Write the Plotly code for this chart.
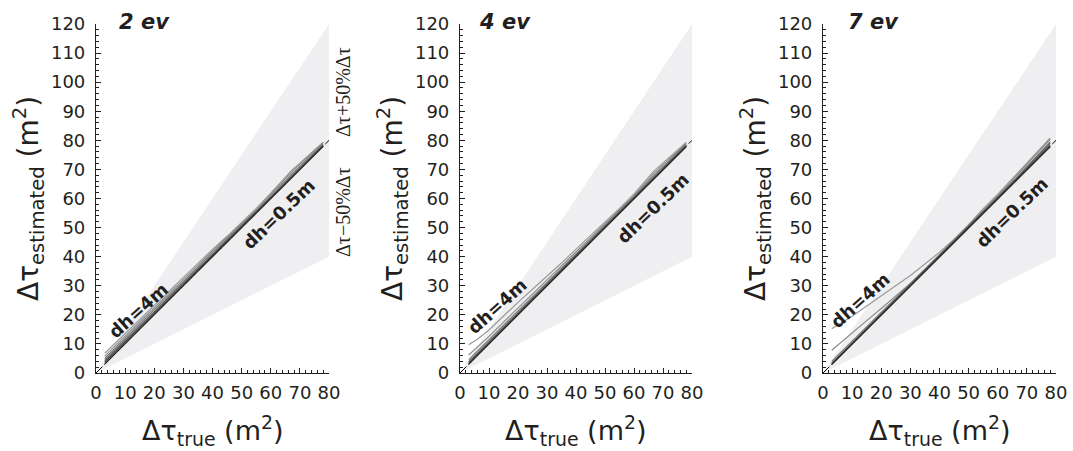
import plotly.graph_objects as go

# ---- data -------------------------------------------------------------
panel_names = ["2 ev", "4 ev", "7 ev"]
dh_values = [4, 3, 2, 1.5, 1, 0.5]
line_colors = ["#9a9a9a", "#8a8a8a", "#787878", "#5e5e5e", "#484848", "#2a2a2a"]

tau_true = [3, 6, 10, 15, 20, 25, 30, 35, 40, 45, 50, 55, 60, 67, 78]

est_2ev = [
    [6.8, 9.7, 13.5, 18.4, 23.2, 28.0, 32.8, 37.6, 42.5, 47.0, 51.8, 56.6, 61.8, 69.5, 79.4],
    [5.8, 8.8, 12.7, 17.6, 22.4, 27.2, 32.0, 36.9, 42.0, 46.5, 51.3, 56.0, 61.3, 69.0, 79.2],
    [5.0, 8.0, 12.0, 16.9, 21.8, 26.6, 31.4, 36.3, 41.4, 46.0, 50.8, 55.6, 60.8, 68.2, 78.8],
    [4.3, 7.3, 11.3, 16.2, 21.1, 26.0, 30.9, 35.8, 40.8, 45.6, 50.5, 55.3, 60.4, 67.6, 78.4],
    [3.7, 6.7, 10.7, 15.6, 20.6, 25.5, 30.5, 35.4, 40.4, 45.3, 50.2, 55.1, 60.2, 67.2, 78.1],
    [3.1, 6.1, 10.1, 15.1, 20.1, 25.0, 30.0, 35.0, 40.0, 45.0, 50.0, 55.0, 60.0, 67.0, 77.9],
]
est_4ev = [
    [9.7, 11.6, 14.8, 19.6, 24.3, 28.8, 33.2, 37.8, 42.6, 47.2, 52.0, 56.6, 61.6, 69.6, 79.3],
    [6.2, 8.9, 12.6, 17.5, 22.3, 27.1, 31.9, 36.7, 41.7, 46.4, 51.3, 56.0, 61.0, 68.8, 79.0],
    [4.6, 7.6, 11.5, 16.4, 21.3, 26.2, 31.1, 36.0, 41.0, 45.9, 50.8, 55.6, 60.6, 68.0, 78.6],
    [3.8, 6.8, 10.8, 15.8, 20.7, 25.6, 30.6, 35.5, 40.5, 45.4, 50.4, 55.3, 60.3, 67.5, 78.3],
    [3.3, 6.3, 10.3, 15.3, 20.3, 25.2, 30.2, 35.2, 40.2, 45.1, 50.1, 55.1, 60.1, 67.2, 78.0],
    [3.0, 6.0, 10.0, 15.0, 20.0, 25.0, 30.0, 35.0, 40.0, 45.0, 50.0, 55.0, 60.0, 67.0, 77.8],
]
est_7ev = [
    [15.2, 17.0, 19.5, 23.0, 26.5, 30.0, 33.5, 37.5, 41.5, 46.0, 51.0, 56.5, 61.5, 69.0, 80.8],
    [7.8, 10.4, 13.8, 18.0, 22.2, 26.4, 30.8, 35.5, 40.6, 45.5, 50.6, 56.0, 61.0, 68.5, 80.3],
    [4.0, 7.0, 11.0, 16.0, 21.0, 25.9, 30.8, 35.8, 40.7, 45.6, 50.5, 55.6, 60.5, 67.8, 79.5],
    [3.4, 6.4, 10.4, 15.4, 20.4, 25.4, 30.4, 35.3, 40.3, 45.3, 50.3, 55.4, 60.3, 67.4, 79.0],
    [3.1, 6.1, 10.1, 15.1, 20.1, 25.1, 30.1, 35.1, 40.1, 45.0, 50.0, 55.0, 60.0, 67.0, 78.3],
    [2.9, 5.9, 9.9, 14.9, 19.9, 24.9, 29.9, 34.9, 39.9, 44.9, 49.9, 54.8, 59.8, 66.8, 77.8],
]
panel_series = [est_2ev, est_4ev, est_7ev]

# ±50 % envelope and 1:1 reference
tau_max = 80
band_x = [0, tau_max, tau_max, 0]
band_y = [0, 1.5 * tau_max, 0.5 * tau_max, 0]

# dh label positions (data units) per panel
label_4m = [(14.4, 21.6), (12.6, 23.0), (12.6, 25.0)]
label_05m = [(62.5, 54.6), (66.3, 56.7), (64.7, 55.3)]
panel_label_px = [117, 477, 846]

# ---- layout geometry ----------------------------------------------------
W, H = 1073, 451
x_px = [(96, 329), (460, 692), (823, 1056)]
y_dom = [(H - 373) / H, (H - 24) / H]

SANS = "DejaVu Sans"
INK = "#231f20"

fig = go.Figure()

for i, series in enumerate(panel_series):
    xa = "x" if i == 0 else f"x{i+1}"
    ya = "y" if i == 0 else f"y{i+1}"
    fig.add_trace(go.Scatter(x=band_x, y=band_y, fill="toself", mode="lines",
                             line=dict(width=0), fillcolor="#efeff1",
                             hoverinfo="skip", showlegend=False, xaxis=xa, yaxis=ya))
    fig.add_trace(go.Scatter(x=[0, tau_max], y=[0, tau_max], mode="lines",
                             line=dict(color="#000000", width=1, dash="dashdot"),
                             showlegend=False, xaxis=xa, yaxis=ya))
    for ys, col, dh in zip(series, line_colors, dh_values):
        fig.add_trace(go.Scatter(x=tau_true, y=ys, mode="lines",
                                 line=dict(color=col, width=1.2),
                                 name=f"dh={dh}m", showlegend=False,
                                 xaxis=xa, yaxis=ya))

axis_common = dict(showgrid=False, zeroline=False, showline=True, linecolor=INK,
                   linewidth=1.2, ticks="inside", ticklen=5, tickwidth=1,
                   tickcolor=INK, tickfont=dict(family=SANS, size=18, color=INK),
                   minor=dict(dtick=2, ticks="inside", ticklen=3, tickcolor=INK, tickwidth=1),
                   automargin=False, fixedrange=True)

for i in range(3):
    sfx = "" if i == 0 else str(i + 1)
    fig.update_layout(**{
        f"xaxis{sfx}": dict(axis_common, domain=[x_px[i][0] / W, x_px[i][1] / W],
                            range=[0, 80], dtick=10, tick0=0,
                            anchor=f"y{sfx}", ticklabelstandoff=3),
        f"yaxis{sfx}": dict(axis_common, domain=y_dom, range=[0, 120], dtick=10,
                            tick0=0, anchor=f"x{sfx}", ticklabelstandoff=6),
    })

annotations = []
for i in range(3):
    sfx = "" if i == 0 else str(i + 1)
    x0, x1 = x_px[i]
    # panel name
    annotations.append(dict(text=f"<b><i>{panel_names[i]}</i></b>", xref="paper", yref="paper",
                            x=panel_label_px[i] / W, y=1 - 22 / H, xanchor="left",
                            yanchor="middle", showarrow=False,
                            font=dict(family=SANS, size=21, color=INK)))
    # axis titles
    annotations.append(dict(text="Δτ<sub>true</sub> (m<sup>2</sup>)", xref="paper", yref="paper",
                            x=(x0 + x1) / 2 / W, y=1 - 430 / H, xanchor="center",
                            yanchor="middle", showarrow=False,
                            font=dict(family=SANS, size=27, color=INK)))
    annotations.append(dict(text="Δτ<sub>estimated</sub> (m<sup>2</sup>)", xref="paper",
                            yref="paper", x=(x0 - 67) / W, y=1 - 199 / H, xanchor="center",
                            yanchor="middle", textangle=-90, showarrow=False,
                            font=dict(family=SANS, size=28, color=INK)))
    # dh labels
    lx, ly = label_4m[i]
    annotations.append(dict(text="<b>dh=4m</b>", x=lx, y=ly, xref=f"x{sfx}", yref=f"y{sfx}",
                            textangle=-42, showarrow=False,
                            font=dict(family=SANS, size=18, color=INK)))
    lx, ly = label_05m[i]
    annotations.append(dict(text="<b>dh=0.5m</b>", x=lx, y=ly, xref=f"x{sfx}", yref=f"y{sfx}",
                            textangle=-44, showarrow=False,
                            font=dict(family=SANS, size=18, color=INK)))

# envelope labels on the first panel
annotations.append(dict(text="Δτ+50%Δτ", xref="paper", yref="paper", x=343 / W, y=1 - 92 / H,
                        xanchor="center", yanchor="middle", textangle=-90, showarrow=False,
                        font=dict(family="Liberation Serif", size=20, color=INK)))
annotations.append(dict(text="Δτ−50%Δτ", xref="paper", yref="paper", x=343 / W, y=1 - 212 / H,
                        xanchor="center", yanchor="middle", textangle=-90, showarrow=False,
                        font=dict(family="Liberation Serif", size=20, color=INK)))

fig.update_layout(width=W, height=H, margin=dict(l=0, r=0, t=0, b=0),
                  paper_bgcolor="white", plot_bgcolor="white",
                  annotations=annotations, showlegend=False)

fig.write_html("out.html", config={"displayModeBar": False})
